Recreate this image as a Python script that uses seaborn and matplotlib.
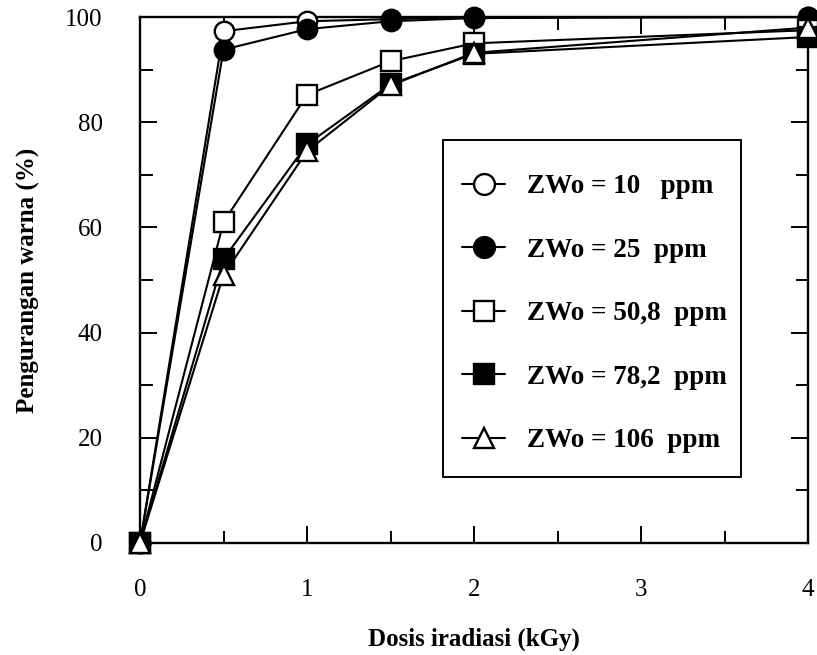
import seaborn as sns
from matplotlib import pyplot as plt
from matplotlib.patches import Rectangle
from matplotlib.ticker import MultipleLocator

# dose (kGy) and colour reduction (%) per initial concentration
dose = [0, 0.5, 1, 1.5, 2, 4]
zwo_10 = [0, 97.3, 99.2, 99.6, 100, 100]
zwo_25 = [0, 93.8, 97.7, 99.2, 99.8, 100]
zwo_50_8 = [0, 61.0, 85.2, 91.6, 95.0, 97.5]
zwo_78_2 = [0, 54.0, 75.8, 87.2, 93.0, 96.2]
zwo_106 = [0, 51.0, 74.5, 87.0, 93.2, 98.0]

labels = ["ZWo = 10   ppm", "ZWo = 25  ppm", "ZWo = 50,8  ppm",
          "ZWo = 78,2  ppm", "ZWo = 106  ppm"]

sns.set_style("ticks")
plt.rcParams['font.family'] = ['Liberation Serif', 'DejaVu Serif']
plt.rcParams['text.color'] = 'black'
plt.rcParams['axes.labelcolor'] = 'black'
plt.rcParams['xtick.color'] = 'black'
plt.rcParams['ytick.color'] = 'black'

fig = plt.figure(figsize=(8.17, 6.55), dpi=100)
ax = fig.add_axes([0.1714, 0.171, 0.8176, 0.803])

series = [zwo_10, zwo_25, zwo_50_8, zwo_78_2, zwo_106]
styles = [("o", "white"), ("o", "black"), ("s", "white"),
          ("s", "black"), ("^", "white")]
sizes = [14, 14, 14, 14, 15]
for vals, (mk, fc), ms, lab in zip(series, styles, sizes, labels):
    sns.lineplot(x=dose, y=vals, ax=ax, color="black", lw=1.5,
                 marker=mk, markersize=ms, markerfacecolor=fc,
                 markeredgecolor="black", markeredgewidth=1.7,
                 label=lab, clip_on=False, zorder=3)

ax.set_xlim(0, 4)
ax.set_ylim(0, 100)
ax.xaxis.set_major_locator(MultipleLocator(1))
ax.xaxis.set_minor_locator(MultipleLocator(0.5))
ax.yaxis.set_major_locator(MultipleLocator(20))
ax.yaxis.set_minor_locator(MultipleLocator(10))
ax.tick_params(which="both", direction="in", top=True, right=True,
               width=1.4, labelsize=18)
ax.tick_params(which="major", length=12)
ax.tick_params(which="minor", length=9)
ax.tick_params(axis="x", which="major", pad=26)
ax.tick_params(axis="y", which="major", pad=27)
for sp in ax.spines.values():
    sp.set_linewidth(1.7)
    sp.set_color("black")
    sp.set_visible(True)

ax.set_xlabel("Dosis iradiasi (kGy)", fontsize=18, fontweight="bold", labelpad=19)
ax.set_ylabel("Pengurangan warna (%)", fontsize=18, fontweight="bold", labelpad=18)

# legend frame drawn as a box, entries placed inside it
ax.add_patch(Rectangle((0.4536, 0.1255), 0.4461, 0.6405, transform=ax.transAxes,
                       facecolor="white", edgecolor="black", lw=1.4, zorder=4))
leg = ax.legend(loc="upper left", bbox_to_anchor=(0.482, 0.701),
                prop={"weight": "bold", "size": 19.5}, frameon=False,
                handlelength=1.6, labelspacing=1.42, borderpad=0,
                handletextpad=0.8, borderaxespad=0)
leg.set_zorder(5)
for h in leg.legend_handles:
    h.set_markersize(15)

fig.savefig("out.png", dpi=100)
